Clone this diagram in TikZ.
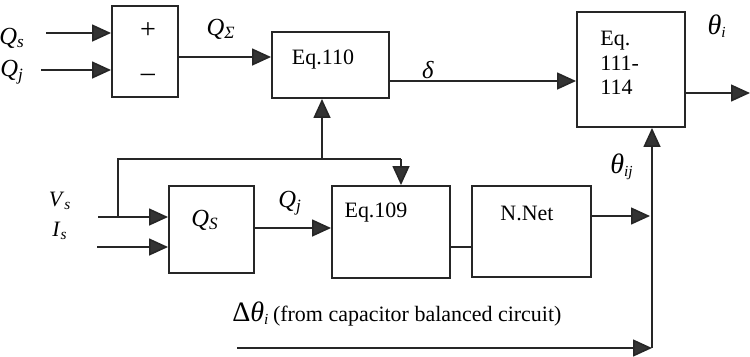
\documentclass[tikz,border=0pt]{standalone}
\usepackage{fontspec}
\setmainfont{Liberation Serif}
\usepackage{tikz}
\usetikzlibrary{arrows.meta,positioning}
\newcommand{\sublbl}[2]{\textit{#1}\textsubscript{\textit{#2}}}
\newcommand{\biggreek}[1]{{\fontsize{16}{16}\selectfont\textit{#1}}}
\tikzset{
  blkbox/.style={draw=black!85,line width=1.1pt,inner sep=0pt},
  txtnode/.style={inner sep=0pt,font=\fontsize{12.5}{14}\selectfont},
  sigline/.style={line width=0.9pt,black!85},
  sigarrow/.style={sigline,-{Triangle[length=0.38cm,width=0.34cm,fill=black!80]}},
}
\begin{document}
\begin{tikzpicture}[x=0.02cm,y=-0.02cm]
  \useasboundingbox (0,0) rectangle (750,356);
  % blocks
  \node[blkbox,minimum width=1.32cm,minimum height=1.82cm] (sum) at (145,51.5) {};
  \node[blkbox,minimum width=2.34cm,minimum height=1.32cm] (eqA) at (330.5,65) {};
  \node[blkbox,minimum width=2.16cm,minimum height=2.30cm] (eqB) at (631,69.5) {};
  \node[blkbox,minimum width=1.70cm,minimum height=1.74cm] (qsbox) at (211.5,229.5) {};
  \node[blkbox,minimum width=2.36cm,minimum height=1.84cm] (eqC) at (391,232) {};
  \node[blkbox,minimum width=2.38cm,minimum height=1.82cm] (nnet) at (531.5,231.5) {};
  % block texts
  \node[txtnode,font=\fontsize{16}{16}\selectfont] (plus) at (148,31) {+};
  \node[txtnode,font=\fontsize{16}{16}\selectfont] (minus) at (148,78) {--};
  \node[txtnode] (eqAtxt) at (323,60) {Eq.110};
  \node[txtnode,align=left,anchor=north west] (eqBtxt) at (600,31) {Eq.\\111-\\114};
  \node[txtnode,font=\fontsize{14}{14}\selectfont] (qstxt) at (205,220) {\sublbl{Q}{S}};
  \node[txtnode] (eqCtxt) at (376,213) {Eq.109};
  \node[txtnode] (nnettxt) at (527,213) {N.Net};
  % signal labels
  \node[txtnode,font=\fontsize{14}{14}\selectfont] (lqs) at (12,38) {\sublbl{Q}{s}};
  \node[txtnode,font=\fontsize{14}{14}\selectfont] (lqj) at (12,72) {\sublbl{Q}{j}};
  \node[txtnode,font=\fontsize{14}{14}\selectfont] (lqsum) at (221,29) {\sublbl{Q}{Σ}};
  \node[txtnode,font=\fontsize{14}{14}\selectfont] (ldelta) at (428,70) {\textit{δ}};
  \node[txtnode] (ltheta) at (717,26) {\biggreek{θ}\textsubscript{\textit{i}}};
  \node[txtnode] (lthetaij) at (622,167) {\biggreek{θ}\textsubscript{\textit{ij}}};
  \node[txtnode] (lvs) at (60,201) {\sublbl{V}{s}};
  \node[txtnode] (lis) at (60,231) {\sublbl{I}{s}};
  \node[txtnode,font=\fontsize{14}{14}\selectfont] (lqj2) at (290,203) {\sublbl{Q}{j}};
  \node[txtnode,anchor=west] (ldtheta) at (232,314) {{\fontsize{16}{16}\selectfont Δ}\biggreek{θ}\textsubscript{\textit{i}}\,(from capacitor balanced circuit)};
  % free ends
  \coordinate (qsin) at (46,33);
  \coordinate (qjin) at (41,70);
  \coordinate (vsin) at (98,217);
  \coordinate (isin) at (97,247);
  \coordinate (tap) at (118,217);
  \coordinate (fbA) at (322,159);
  \coordinate (fbB) at (401,159);
  \coordinate (thout) at (750,93);
  \coordinate (dtin) at (237,348);
  \coordinate (corner) at (652,348);
  \coordinate (nnout) at (650,216);
  % connectors
  \draw[sigarrow] (qsin) -- (qsin -| sum.west);
  \draw[sigarrow] (qjin) -- (qjin -| sum.west);
  \draw[sigarrow] (sum.east |- 0,57) -- (eqA.west |- 0,57);
  \draw[sigarrow] (eqA.east |- 0,81) -- (eqB.west |- 0,81);
  \draw[sigarrow] (eqB.east |- thout) -- (thout);
  \draw[sigarrow] (vsin) -- (vsin -| qsbox.west);
  \draw[sigarrow] (isin) -- (isin -| qsbox.west);
  \draw[sigline] (tap) |- (fbB);
  \draw[sigarrow] (fbB) -- (fbB |- eqC.north);
  \draw[sigarrow] (fbA) -- (fbA |- eqA.south);
  \draw[sigarrow] (qsbox.east |- 0,228) -- (eqC.west |- 0,228);
  \draw[sigline] (eqC.east |- 0,247) -- (nnet.west |- 0,247);
  \draw[sigarrow] (nnet.east |- nnout) -- (nnout);
  \draw[sigarrow] (dtin) -- (corner);
  \draw[sigarrow] (corner) -- (corner |- eqB.south);
\end{tikzpicture}
\end{document}
